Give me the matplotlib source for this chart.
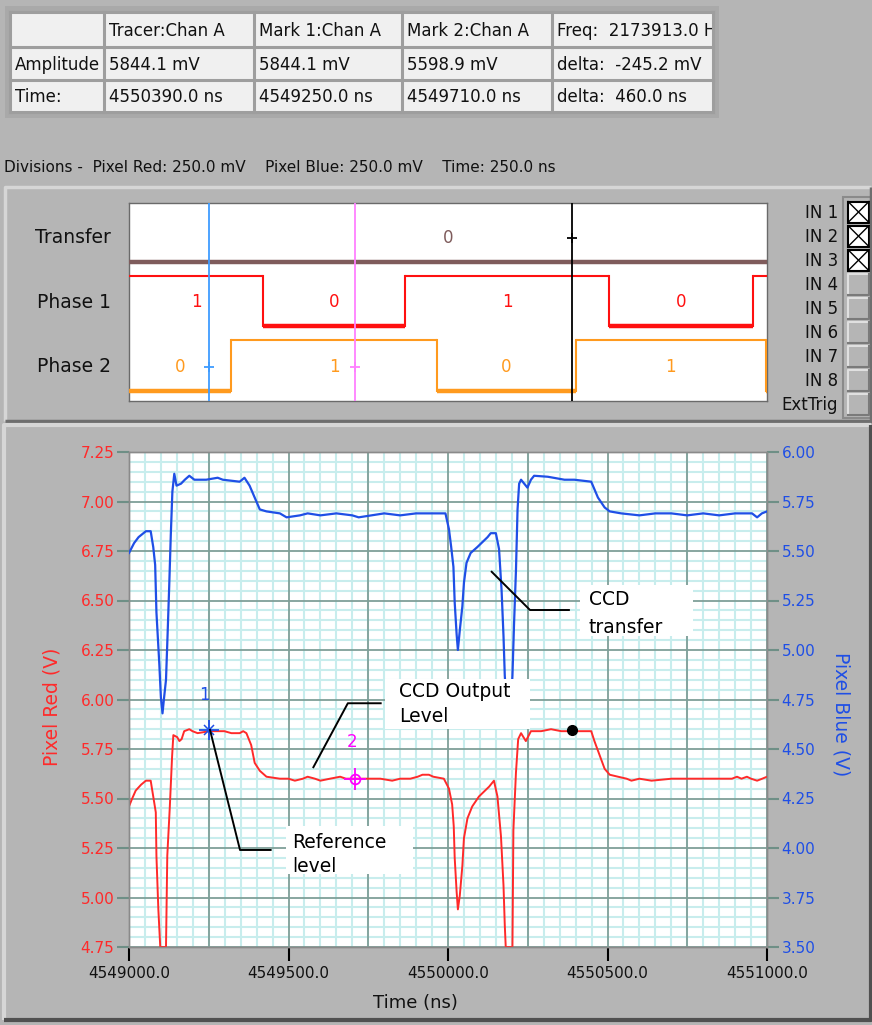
import numpy as np
import matplotlib
matplotlib.use('Agg')
import matplotlib.pyplot as plt
from matplotlib.patches import Rectangle
from matplotlib.ticker import MultipleLocator, FormatStrFormatter

W, H = 872, 1025
GRAY = '#b5b5b5'
RED = '#ff2a2a'
BLUE = '#1f4fe6'

# ---------------- data ----------------
t0 = 4549000

# cursor table
table_rows = [
    ['', 'Tracer:Chan A', 'Mark 1:Chan A', 'Mark 2:Chan A', 'Freq:  2173913.0 Hz'],
    ['Amplitude', '5844.1 mV', '5844.1 mV', '5598.9 mV', 'delta:  -245.2 mV'],
    ['Time:', '4550390.0 ns', '4549250.0 ns', '4549710.0 ns', 'delta:  460.0 ns'],
]
divisions_text = 'Divisions -  Pixel Red: 250.0 mV    Pixel Blue: 250.0 mV    Time: 250.0 ns'

# digital channels: edge times (ns) and logic states
dig_names = ['Transfer', 'Phase 1', 'Phase 2']
dig_colors = ['#7f5c5c', '#ff1010', '#ff9a1e']
transfer_edges = [4549000, 4551000]
transfer_states = [0]
phase1_edges = [4549000, 4549420, 4549865, 4550505, 4550955, 4551000]
phase1_states = [1, 0, 1, 0, 1]
phase2_edges = [4549000, 4549320, 4549965, 4550400, 4550997, 4551000]
phase2_states = [0, 1, 0, 1, 0]
inputs = ['IN 1', 'IN 2', 'IN 3', 'IN 4', 'IN 5', 'IN 6', 'IN 7', 'IN 8', 'ExtTrig']
inputs_on = [True, True, True, False, False, False, False, False, False]

# analog traces (time offset in ns, volts)
red_dt = [0, 10, 21, 38, 53, 68, 76, 84, 86, 92, 98, 116, 118, 120, 128, 135, 139, 151,
          158, 165, 173, 189, 199, 215, 252, 270, 299, 321, 347, 358, 368, 383, 394, 410,
          431, 473, 500, 520, 545, 560, 583, 600, 630, 662, 680, 715, 750, 788, 825, 850,
          882, 905, 920, 940, 954, 987, 1003, 1013, 1018, 1021, 1027, 1031, 1037, 1045,
          1050, 1061, 1076, 1097, 1129, 1144, 1155, 1166, 1174, 1178, 1181, 1202, 1205,
          1213, 1220, 1229, 1244, 1260, 1292, 1323, 1355, 1395, 1449, 1459, 1475, 1491,
          1507, 1533, 1560, 1575, 1600, 1638, 1701, 1796, 1850, 1890, 1906, 1920, 1937,
          1950, 1969, 1985, 2000]
red_v = [5.46, 5.50, 5.54, 5.57, 5.59, 5.59, 5.51, 5.43, 5.21, 4.94, 4.75, 4.75, 4.98,
         5.21, 5.46, 5.71, 5.82, 5.81, 5.79, 5.80, 5.84, 5.85, 5.84, 5.83, 5.84, 5.84,
         5.84, 5.83, 5.83, 5.84, 5.83, 5.77, 5.68, 5.64, 5.61, 5.60, 5.60, 5.59, 5.60,
         5.61, 5.60, 5.59, 5.60, 5.61, 5.60, 5.60, 5.60, 5.60, 5.59, 5.60, 5.60, 5.61,
         5.62, 5.62, 5.61, 5.60, 5.55, 5.47, 5.36, 5.20, 5.03, 4.94, 5.01, 5.16, 5.30,
         5.40, 5.46, 5.51, 5.56, 5.59, 5.51, 5.31, 5.06, 4.86, 4.75, 4.75, 5.34, 5.63,
         5.80, 5.83, 5.79, 5.84, 5.84, 5.85, 5.84, 5.84, 5.84, 5.79, 5.72, 5.65, 5.62,
         5.61, 5.60, 5.59, 5.60, 5.59, 5.60, 5.60, 5.60, 5.60, 5.61, 5.60, 5.61, 5.60,
         5.59, 5.60, 5.61]
blue_dt = [0, 16, 30, 53, 68, 76, 82, 86, 95, 100, 105, 110, 116, 121, 126, 131, 136, 142,
           149, 163, 175, 189, 205, 242, 278, 294, 347, 362, 378, 394, 410, 431, 473, 494,
           536, 560, 600, 650, 700, 720, 760, 800, 850, 900, 945, 992, 1003, 1010, 1017,
           1021, 1027, 1031, 1037, 1045, 1050, 1058, 1071, 1092, 1124, 1134, 1150, 1160,
           1168, 1174, 1178, 1184, 1197, 1202, 1207, 1213, 1218, 1223, 1229, 1239, 1249,
           1260, 1270, 1313, 1365, 1396, 1449, 1470, 1491, 1507, 1543, 1600, 1650, 1700,
           1750, 1800, 1850, 1900, 1953, 1969, 1984, 2000]
blue_v = [5.49, 5.54, 5.57, 5.60, 5.60, 5.52, 5.43, 5.19, 4.93, 4.76, 4.68, 4.76, 4.85,
          5.08, 5.32, 5.58, 5.80, 5.89, 5.83, 5.84, 5.86, 5.88, 5.86, 5.86, 5.87, 5.86,
          5.85, 5.87, 5.83, 5.77, 5.71, 5.70, 5.69, 5.67, 5.68, 5.69, 5.68, 5.69, 5.68,
          5.67, 5.68, 5.69, 5.68, 5.69, 5.69, 5.69, 5.61, 5.52, 5.42, 5.24, 5.08, 5.00,
          5.10, 5.22, 5.34, 5.44, 5.49, 5.52, 5.57, 5.59, 5.59, 5.51, 5.30, 5.07, 4.87,
          4.72, 4.72, 4.87, 5.13, 5.40, 5.71, 5.84, 5.86, 5.84, 5.82, 5.86, 5.88, 5.875,
          5.86, 5.86, 5.85, 5.77, 5.72, 5.70, 5.69, 5.68, 5.69, 5.69, 5.68, 5.69, 5.68,
          5.69, 5.69, 5.67, 5.69, 5.70]

mark1 = (4549250, 5.8441)
mark2 = (4549710, 5.5989)
tracer = (4550390, 5.8441)

# ---------------- figure ----------------
fig = plt.figure(figsize=(W / 100, H / 100), dpi=100, facecolor=GRAY)


def fbox(x0, y0, x1, y1):
    return [x0 / W, 1 - y1 / H, (x1 - x0) / W, (y1 - y0) / H]


bg = fig.add_axes([0, 0, 1, 1])
bg.set_xlim(0, W)
bg.set_ylim(H, 0)
bg.axis('off')


def bevel(x0, y0, x1, y1, light='#d6d6d6', dark='#6e6e6e', lw=2.5):
    bg.plot([x0, x0, x1], [y1, y0, y0], color=light, lw=lw, solid_capstyle='butt')
    bg.plot([x0, x1, x1], [y1, y1, y0], color=dark, lw=lw, solid_capstyle='butt')


# cursor table
bg.add_patch(Rectangle((5, 6), 714, 112, fc='#a9a9a9', ec='none'))
col_edges = [10, 104, 254, 402, 552, 713]
row_edges = [12, 47, 80, 112]
bg.add_patch(Rectangle((10, 12), 703, 100, fc='#f0f0f0', ec='none'))
for x in col_edges:
    bg.plot([x, x], [12, 112], color='#9e9e9e', lw=2.2)
for y in row_edges:
    bg.plot([10, 713], [y, y], color='#9e9e9e', lw=2.2)
for r, row in enumerate(table_rows):
    yc = (row_edges[r] + row_edges[r + 1]) / 2
    for c, txt in enumerate(row):
        if not txt:
            continue
        t = bg.text(col_edges[c] + 5, yc + 1, txt, fontsize=12, va='center', ha='left',
                    color='#111111', clip_on=True)
        clip = Rectangle((col_edges[c], row_edges[r]), col_edges[c + 1] - col_edges[c] - 1,
                         row_edges[r + 1] - row_edges[r], transform=bg.transData)
        t.set_clip_path(clip)

bg.text(4, 167, divisions_text, fontsize=11, va='center', ha='left', color='#111111')

# digital panel frame
bevel(5, 187, 871, 421)
bg.add_patch(Rectangle((843, 197), 28, 221, fc='none', ec='#8a8a8a', lw=1.5))
for i, (name, on) in enumerate(zip(inputs, inputs_on)):
    yt = 201.5 + 24.1 * i
    bg.text(838, yt + 11, name, fontsize=12, ha='right', va='center', color='#111111')
    if on:
        bg.add_patch(Rectangle((848, yt), 21, 21, fc='white', ec='black', lw=1.5))
        bg.plot([848, 869], [yt, yt + 21], color='black', lw=1)
        bg.plot([848, 869], [yt + 21, yt], color='black', lw=1)
    else:
        bg.plot([848, 848, 869], [yt + 21, yt, yt], color='#e0e0e0', lw=1.5)
        bg.plot([848, 869, 869], [yt + 21, yt + 21, yt], color='#7a7a7a', lw=1.5)

# analog panel frame
bevel(4, 425, 871, 1020, dark='#505050', lw=3)

# ---------------- digital view ----------------
axd = fig.add_axes(fbox(129, 203, 767, 401))
axd.set_xlim(t0, t0 + 2000)
axd.set_ylim(3.07, 0)
axd.set_xticks([])
axd.set_yticks([])
for s in axd.spines.values():
    s.set_color('#6a6a6a')
    s.set_linewidth(1)

channels = [(transfer_edges, transfer_states), (phase1_edges, phase1_states),
            (phase2_edges, phase2_states)]
for row, ((edges, states), name, col) in enumerate(zip(channels, dig_names, dig_colors)):
    lo, hi = row + 0.91, row + 0.127
    prev = None
    for i, s in enumerate(states):
        y = hi if s else lo
        axd.plot([edges[i], edges[i + 1]], [y, y], color=col, lw=1.5 if s else 3.2,
                 solid_capstyle='butt', zorder=3)
        if prev is not None:
            axd.plot([edges[i], edges[i]], [prev, y], color=col, lw=1.5, zorder=3)
        prev = y
        if edges[i + 1] - edges[i] > 100:
            axd.text((edges[i] + edges[i + 1]) / 2, row + 0.54, str(s), color=col,
                     fontsize=12, ha='center', va='center', zorder=4)
    bg.text(111, 203 + (row + 0.54) * 64.5, name, fontsize=13.5, ha='right', va='center',
            color='#111111')

axd.axvline(mark1[0], color='#3f9cff', lw=1.3, zorder=5)
axd.axvline(mark2[0], color='#ff80ff', lw=1.3, zorder=5)
axd.axvline(tracer[0], color='black', lw=1.3, zorder=5)
axd.plot([mark1[0]], [2.54], '+', color='#3f9cff', ms=7, mew=1.3, zorder=6)
axd.plot([mark2[0]], [2.54], '+', color='#ff80ff', ms=7, mew=1.3, zorder=6)
axd.plot([tracer[0]], [0.54], '+', color='black', ms=7, mew=1.3, zorder=6)

# ---------------- analog view ----------------
ax = fig.add_axes(fbox(129, 452, 767, 947))
ax2 = ax.twinx()

red_t = t0 + np.array(red_dt)
blue_t = t0 + np.array(blue_dt)

ax.xaxis.set_major_locator(MultipleLocator(500))
ax.xaxis.set_minor_locator(MultipleLocator(50))
ax.xaxis.set_major_formatter(FormatStrFormatter('%.1f'))
ax.yaxis.set_major_locator(MultipleLocator(0.25))
ax.yaxis.set_minor_locator(MultipleLocator(0.05))
ax.yaxis.set_major_formatter(FormatStrFormatter('%.2f'))
ax2.yaxis.set_major_locator(MultipleLocator(0.25))
ax2.yaxis.set_major_formatter(FormatStrFormatter('%.2f'))

ax.set_axisbelow(True)
ax.grid(which='minor', color='#c8eded', lw=1.5)
ax.grid(which='major', axis='y', color='#7f9f98', lw=1.3)
ax.vlines(np.arange(t0, t0 + 2001, 250), 4.75, 7.25, color='#7f9f98', lw=1.3, zorder=0.8)

ax.plot(red_t, red_v, color=RED, lw=1.4, zorder=3)
ax2.plot(blue_t, blue_v, color=BLUE, lw=1.6, zorder=3)

ax.tick_params(axis='y', which='major', direction='out', length=8.5, width=1.5,
               color='#6e8f86', labelcolor=RED, labelsize=11, pad=2)
ax2.tick_params(axis='y', which='major', direction='out', length=8.5, width=1.5,
                color='#6e8f86', labelcolor=BLUE, labelsize=11, pad=2)
ax.tick_params(axis='x', which='major', direction='out', length=10, width=1.5,
               color='black', labelcolor='#111111', labelsize=11, pad=4)
ax.tick_params(which='minor', length=0)
ax2.tick_params(which='minor', length=0)
for a in (ax, ax2):
    for s in a.spines.values():
        s.set_color('#8a8a8a')
        s.set_linewidth(1)

# markers and cursor labels (drawn in red-axis coordinates)
tr = ax.transData
ax2.plot([mark1[0]], [mark1[1]], '+', color=BLUE, ms=14, mew=1.3, transform=tr, zorder=6)
ax2.plot([mark1[0]], [mark1[1]], 'x', color=BLUE, ms=7, mew=1.1, transform=tr, zorder=6)
ax2.text(mark1[0] - 15, 6.023, '1', color=BLUE, fontsize=12, ha='center', va='center',
         transform=tr, zorder=6)
ax2.plot([mark2[0]], [mark2[1]], '+', color='#ff00ff', ms=16, mew=1.3, transform=tr, zorder=6)
ax2.plot([mark2[0]], [mark2[1]], 'o', mfc='none', mec='#ff00ff', ms=7, mew=1.3, transform=tr,
         zorder=6)
ax2.text(mark2[0] - 12, 5.787, '2', color='#ff00ff', fontsize=12, ha='center', va='center',
         transform=tr, zorder=6)
ax2.plot([tracer[0]], [tracer[1]], 'o', color='black', ms=7, transform=tr, zorder=6)

# call-outs
callouts = [
    # leader line x, leader line y, box (t0, t1, v0, v1), text lines (t, v, s)
    ([4550137, 4550257, 4550379], [6.645, 6.452, 6.452], (4550414, 4550768, 6.321, 6.578),
     [(4550442, 6.503, 'CCD'), (4550442, 6.366, 'transfer')]),
    ([4549578, 4549686, 4549789], [5.658, 5.981, 5.981], (4549803, 4550257, 5.851, 6.103),
     [(4549846, 6.038, 'CCD Output'), (4549846, 5.912, 'Level')]),
    ([4549254, 4549348, 4549444], [5.846, 5.240, 5.240], (4549492, 4549890, 5.119, 5.361),
     [(4549511, 5.280, 'Reference'), (4549511, 5.155, 'level')]),
]
for lx, ly, (bx0, bx1, by0, by1), lines in callouts:
    ax2.plot(lx, ly, color='black', lw=1.4, transform=tr, zorder=7)
    box = Rectangle((bx0, by0), bx1 - bx0, by1 - by0, fc='white', ec='none', transform=tr,
                    zorder=7)
    ax2.add_patch(box)
    for x, y, s in lines:
        t = ax2.text(x, y, s, fontsize=13.5, ha='left', va='center', color='black',
                     transform=tr, zorder=8, clip_on=True)
        t.set_clip_path(Rectangle((bx0, by0), bx1 - bx0, by1 - by0, transform=tr))

ax.set_xlim(t0, t0 + 2000)
ax.set_ylim(4.75, 7.25)
ax2.set_ylim(3.5, 6.0)

bg.text(52, 707, 'Pixel Red (V)', color=RED, fontsize=13.5, rotation=90, ha='center',
        va='center')
bg.text(841, 714, 'Pixel Blue (V)', color=BLUE, fontsize=13.5, rotation=270, ha='center',
        va='center')
bg.text(415, 1003, 'Time (ns)', color='#111111', fontsize=13, ha='center', va='center')

fig.savefig('out.png', dpi=100, facecolor=GRAY)
